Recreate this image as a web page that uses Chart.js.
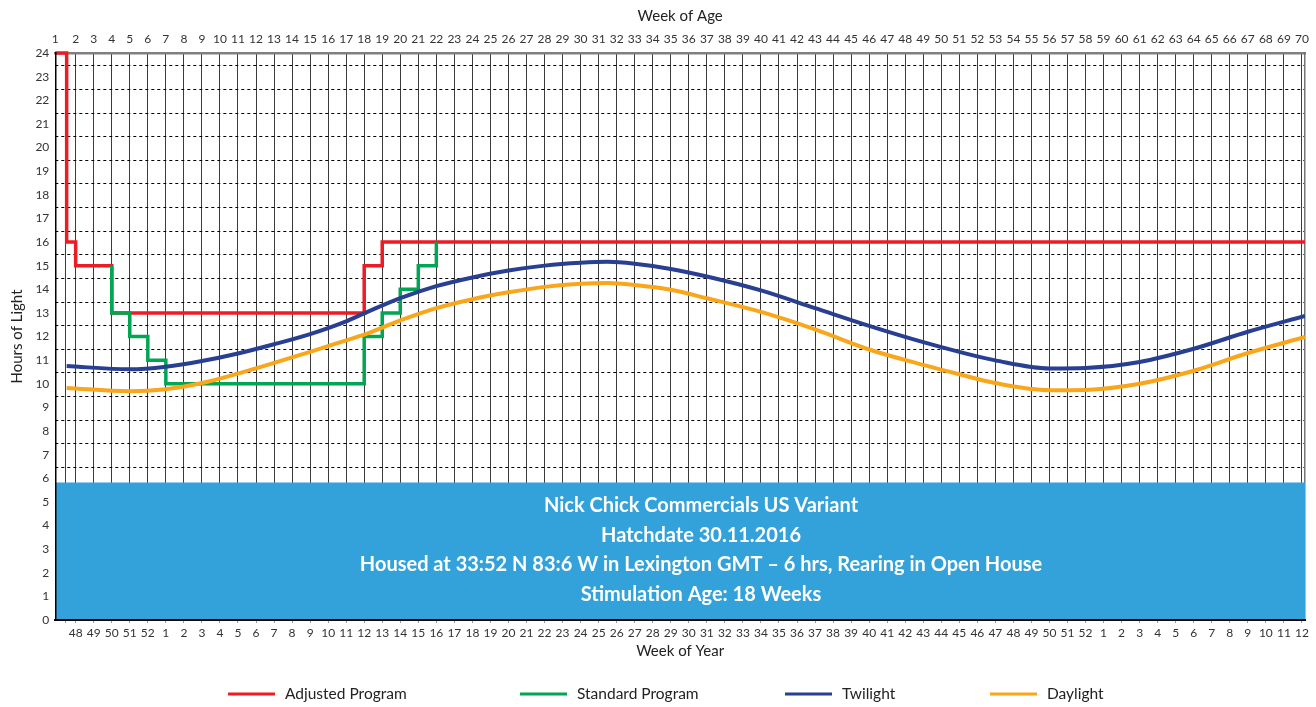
<!DOCTYPE html>
<html>
<head>
<meta charset="utf-8">
<script src="https://cdn.jsdelivr.net/npm/chart.js@4.4.1/dist/chart.umd.min.js"></script>
<style>
	html, body { margin: 0; padding: 0; background: #fff; }
</style>
</head>
<body>
<canvas id="myChart" width="1316" height="707"></canvas>
<script>
// week of age along the top axis
const ageWeeks = [1, 2, 3, 4, 5, 6, 7, 8, 9, 10, 11, 12, 13, 14, 15, 16, 17, 18, 19, 20,
	21, 22, 23, 24, 25, 26, 27, 28, 29, 30, 31, 32, 33, 34, 35, 36, 37, 38, 39, 40,
	41, 42, 43, 44, 45, 46, 47, 48, 49, 50, 51, 52, 53, 54, 55, 56, 57, 58, 59, 60,
	61, 62, 63, 64, 65, 66, 67, 68, 69, 70];
// week of year under age weeks 2..70
const yearWeekLabels = [48, 49, 50, 51, 52, 1, 2, 3, 4, 5, 6, 7, 8, 9, 10, 11, 12, 13, 14, 15,
	16, 17, 18, 19, 20, 21, 22, 23, 24, 25, 26, 27, 28, 29, 30, 31, 32, 33, 34, 35,
	36, 37, 38, 39, 40, 41, 42, 43, 44, 45, 46, 47, 48, 49, 50, 51, 52, 1, 2, 3,
	4, 5, 6, 7, 8, 9, 10, 11, 12];

const X_MIN = 0.87;
const X_MAX = 70.17;

// step programs: week where the value starts, hours
const adjustedWeeks = [X_MIN, 1.5, 2, 4, 18, 19, X_MAX];
const adjustedHours = [24, 16, 15, 13, 15, 16, 16];
const standardWeeks = [4, 4, 5, 6, 7, 18, 19, 20, 21, 22];
const standardHours = [15, 13, 12, 11, 10, 12, 13, 14, 15, 16];

// natural light
const lightWeeks = [1.5, 5, 7, 9, 11, 13, 15, 17, 18, 20, 22, 24, 26, 28, 30, 31.5, 33, 35, 37, 40,
	43, 46, 49, 51, 53, 56, 58, 61, 64, 67, X_MAX];
const twilightHours = [10.75, 10.61, 10.72, 10.96, 11.28, 11.67, 12.1, 12.64, 12.98, 13.62,
	14.13, 14.5, 14.79, 15.0, 15.12, 15.16, 15.08, 14.86, 14.54, 13.95,
	13.2, 12.45, 11.76, 11.35, 10.99, 10.65, 10.67, 10.92, 11.48, 12.2, 12.87];
const daylightHours = [9.82, 9.68, 9.77, 10.03, 10.43, 10.88, 11.35, 11.84, 12.08, 12.68,
	13.2, 13.58, 13.87, 14.1, 14.23, 14.26, 14.18, 13.98, 13.62, 13.04,
	12.3, 11.45, 10.8, 10.4, 10.03, 9.73, 9.74, 10.0, 10.55, 11.3, 11.98];

const dashedRows = [0.46, 1.46, 2.46, 3.46, 4.46, 5.46, 6.46, 7.46, 8.46, 9.46, 10.46, 11.46,
	12.46, 13.46, 14.46, 15.46, 16.46, 17.46, 18.46, 19.46, 20.46, 21.46, 22.46, 23.46];

const infoLines = [
	"Nick Chick Commercials US Variant",
	"Hatchdate 30.11.2016",
	"Housed at 33:52 N 83:6 W in Lexington GMT – 6 hrs, Rearing in Open House",
	"Stimulation Age: 18 Weeks",
];

function toPoints(xs, ys) {
	return xs.map((x, i) => ({ x: x, y: ys[i] }));
}

const FONT = "Lato, 'Open Sans', sans-serif";
Chart.defaults.font.family = FONT;
Chart.defaults.color = "#333";

const infoBox = {
	id: "infoBox",
	beforeDatasetsDraw(chart) {
		const { ctx, chartArea } = chart;
		const top = chart.scales.y.getPixelForValue(5.82);
		ctx.save();
		ctx.fillStyle = "#33a2da";
		ctx.fillRect(chartArea.left, top, chartArea.right - chartArea.left, chartArea.bottom - top);
		ctx.fillStyle = "#fff";
		ctx.font = "bold 20px " + FONT;
		ctx.textAlign = "center";
		ctx.textBaseline = "middle";
		infoLines.forEach((t, i) => ctx.fillText(t, 701, 506 + i * 29.5));
		ctx.restore();
	},
};

const legendX = [228, 520, 785, 990];
const bottomLegend = {
	id: "bottomLegend",
	afterDraw(chart) {
		const ctx = chart.ctx;
		ctx.save();
		ctx.font = "15.5px " + FONT;
		ctx.textBaseline = "middle";
		ctx.fillStyle = "#222";
		chart.data.datasets.forEach((ds, i) => {
			const x = legendX[i];
			const y = 694;
			ctx.strokeStyle = ds.borderColor;
			ctx.lineWidth = 3;
			ctx.beginPath();
			ctx.moveTo(x, y);
			ctx.lineTo(x + 47, y);
			ctx.stroke();
			ctx.fillText(ds.label, x + 57, y);
		});
		ctx.restore();
	},
};

const ctx = document.getElementById("myChart");

const myChart = new Chart(ctx, {
	type: "line",
	data: {
		datasets: [
			{
				label: "Adjusted Program",
				data: toPoints(adjustedWeeks, adjustedHours),
				borderColor: "#ed1c24",
				borderWidth: 3.5,
				stepped: true,
				pointRadius: 0,
				clip: 6,
				order: 4,
			},
			{
				label: "Standard Program",
				data: toPoints(standardWeeks, standardHours),
				borderColor: "#00a651",
				borderWidth: 3.5,
				stepped: true,
				pointRadius: 0,
				order: 3,
			},
			{
				label: "Twilight",
				data: toPoints(lightWeeks, twilightHours),
				borderColor: "#293f91",
				borderWidth: 4,
				cubicInterpolationMode: "monotone",
				pointRadius: 0,
				order: 2,
			},
			{
				label: "Daylight",
				data: toPoints(lightWeeks, daylightHours),
				borderColor: "#faa61a",
				borderWidth: 4,
				cubicInterpolationMode: "monotone",
				pointRadius: 0,
				order: 1,
			},
		],
	},
	options: {
		responsive: false,
		animation: false,
		layout: { padding: { left: 0, right: 11, top: 0, bottom: 35 } },
		plugins: {
			legend: { display: false },
			tooltip: { enabled: false },
		},
		scales: {
			x: {
				type: "linear",
				position: "bottom",
				min: X_MIN,
				max: X_MAX,
				afterBuildTicks: (s) => {
					s.ticks = [1.45].concat(ageWeeks.slice(1)).map((v) => ({ value: v }));
				},
				afterFit: (s) => { s.height = 52; },
				ticks: {
					autoSkip: false,
					maxRotation: 0,
					padding: 3,
					font: { size: 12 },
					callback: (v, i) => (i === 0 ? "" : yearWeekLabels[i - 1]),
				},
				grid: { color: "#3c3c3c", lineWidth: 1, tickLength: 3, tickColor: "#999" },
				border: { display: true, color: "#000", width: 2, z: 1 },
				title: {
					display: true,
					text: "Week of Year",
					font: { size: 15 },
					color: "#222",
					padding: { top: 0, bottom: 12 },
				},
			},
			x2: {
				type: "linear",
				position: "top",
				min: X_MIN,
				max: X_MAX,
				afterBuildTicks: (s) => {
					s.ticks = [X_MIN].concat(ageWeeks.slice(1)).map((v) => ({ value: v }));
				},
				afterFit: (s) => { s.height = 53; },
				ticks: {
					autoSkip: false,
					maxRotation: 0,
					padding: 7,
					font: { size: 12 },
					callback: (v, i) => ageWeeks[i],
				},
				grid: { display: false, drawTicks: false },
				border: { display: true, color: "#808080", width: 2.5 },
				title: {
					display: true,
					text: "Week of Age",
					font: { size: 15 },
					color: "#222",
					padding: { top: 7, bottom: 0 },
				},
			},
			y: {
				type: "linear",
				position: "left",
				min: 0,
				max: 24,
				afterFit: (s) => { s.width = 55.3; },
				ticks: { stepSize: 1, padding: 6, font: { size: 12 } },
				grid: { display: false, drawTicks: false },
				border: { display: true, color: "#000", width: 1.5, z: 1 },
				title: {
					display: true,
					text: "Hours of Light",
					font: { size: 15 },
					color: "#222",
					padding: { top: 8, bottom: 0 },
				},
			},
			yGrid: {
				type: "linear",
				position: "right",
				min: 0,
				max: 24,
				afterBuildTicks: (s) => {
					s.ticks = dashedRows.map((v) => ({ value: v }));
				},
				afterFit: (s) => { s.width = 0; },
				ticks: { display: false },
				grid: { color: "#000", lineWidth: 1, drawTicks: false },
				border: { display: true, color: "#777", width: 1.5, dash: [3, 3] },
			},
		},
	},
	plugins: [infoBox, bottomLegend],
});
</script>
</body>
</html>
